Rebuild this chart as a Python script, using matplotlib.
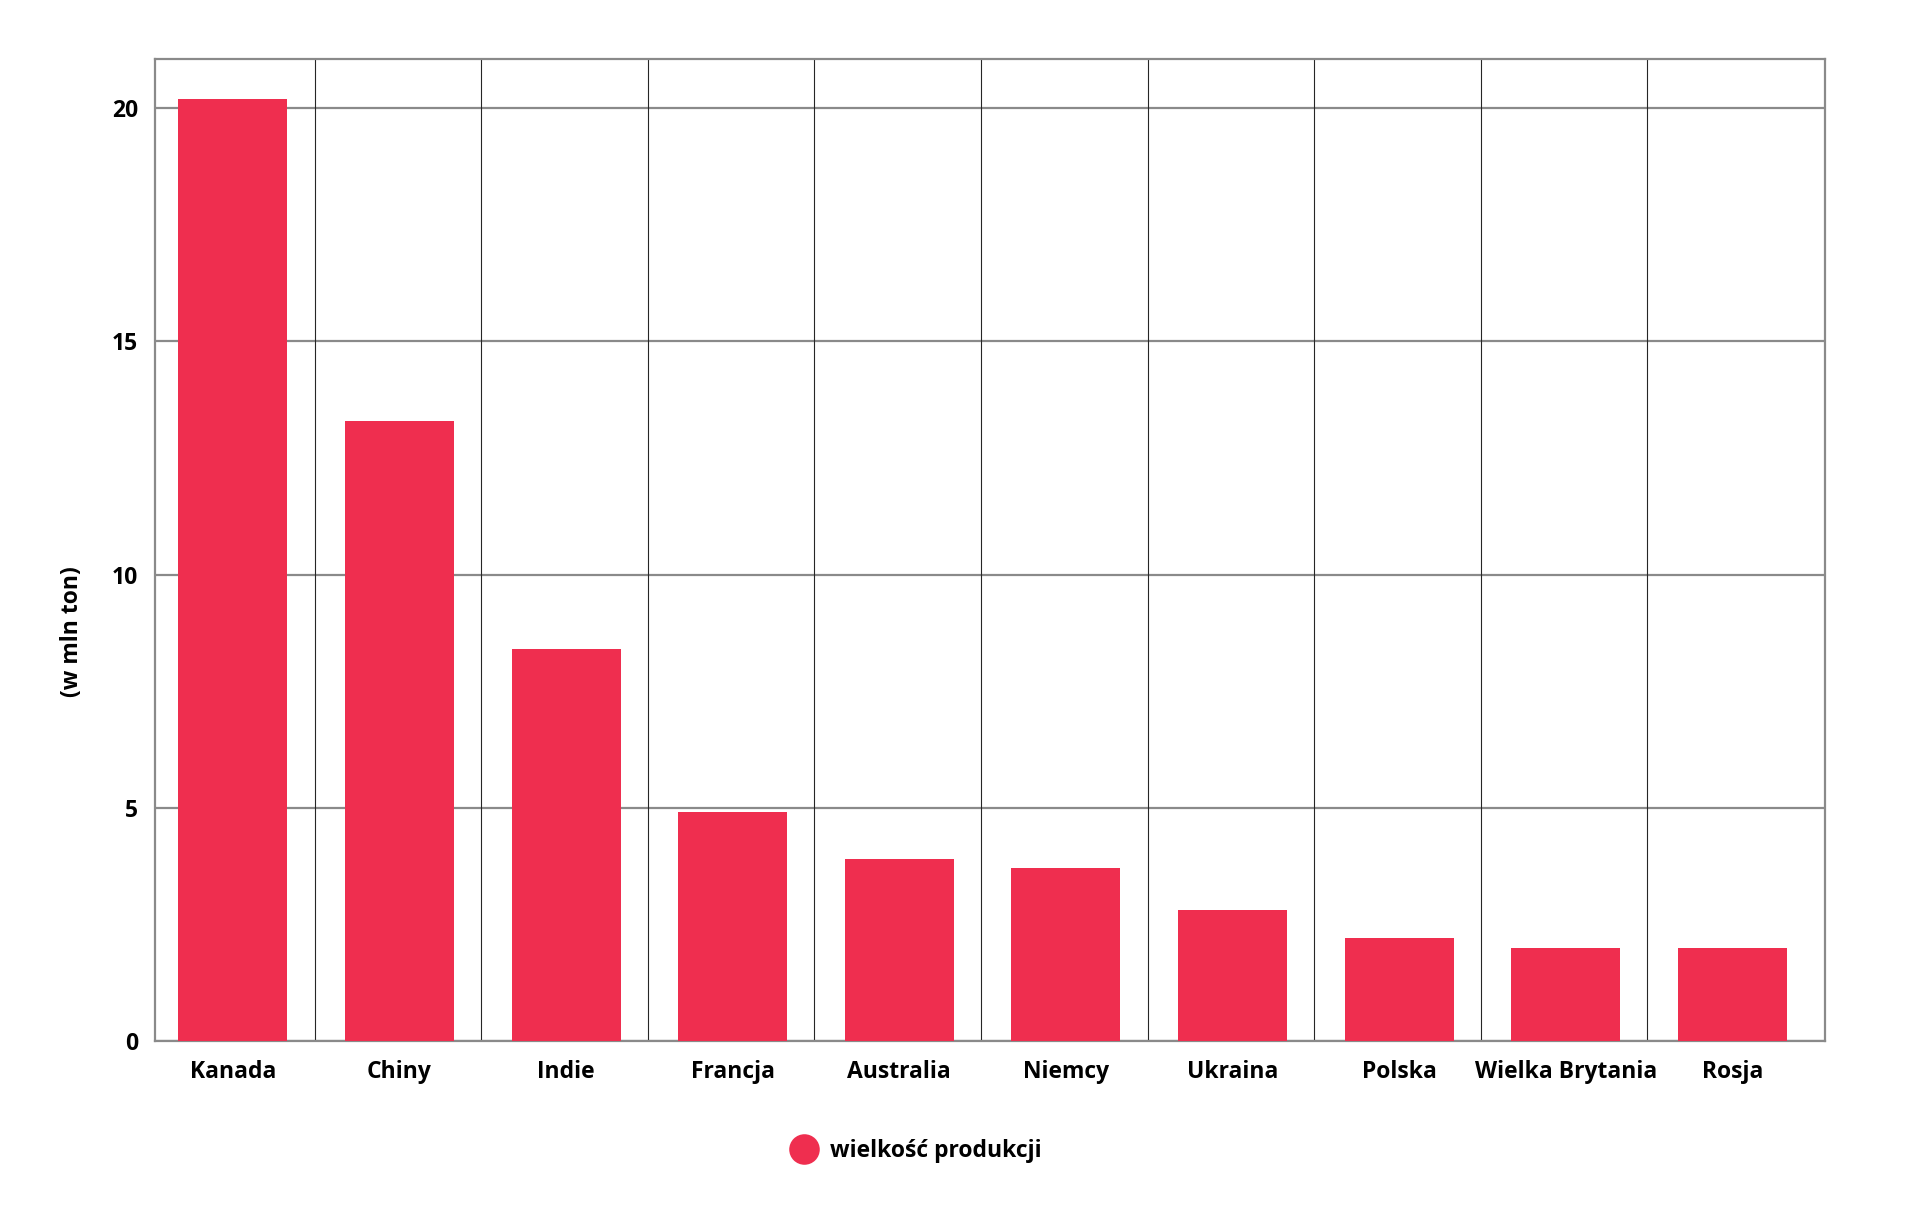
import matplotlib
matplotlib.use('Agg')
import matplotlib.pyplot as plt
from matplotlib.lines import Line2D
import numpy as np

# production volumes (mln t)
countries = ['Kanada', 'Chiny', 'Indie', 'Francja', 'Australia', 'Niemcy',
             'Ukraina', 'Polska', 'Wielka Brytania', 'Rosja']
production = [20.2, 13.3, 8.4, 4.9, 3.9, 3.7, 2.8, 2.2, 2.0, 2.0]
y_ticks = [0, 5, 10, 15, 20]
y_label = '(w mln ton)'
legend_label = 'wielkość produkcji'

BAR_COLOR = '#EF2E4F'
GRID_H = '#8a8a8a'
GRID_V = '#262626'
FS = 16.5

plt.rcParams['font.family'] = ['Open Sans', 'DejaVu Sans']
plt.rcParams['font.weight'] = 'bold'

fig = plt.figure(figsize=(19.2, 12.07), dpi=100)
ax = fig.add_axes([0.0807, 0.1375, 0.8698, 0.8136])

x = np.arange(len(countries))
ax.bar(x, production, width=0.655, color=BAR_COLOR, zorder=3)

ax.set_xlim(-0.468, len(countries) - 1 + 0.556)
ax.set_ylim(0, 21.05)

# horizontal grid
ax.set_yticks(y_ticks)
ax.yaxis.grid(True, color=GRID_H, linewidth=1.6, zorder=1)
ax.xaxis.grid(False)
# vertical separators between categories (thin, dark)
for xi in x[:-1]:
    ax.axvline(xi + 0.49, color=GRID_V, linewidth=0.8, zorder=2)

ax.set_xticks(x)
ax.set_xticklabels(countries, fontsize=FS, fontweight='bold')
ax.set_yticklabels([str(t) for t in y_ticks], fontsize=FS, fontweight='bold')
ax.tick_params(axis='both', length=0)
ax.tick_params(axis='x', pad=14)
ax.tick_params(axis='y', pad=12)

for s in ax.spines.values():
    s.set_color(GRID_H)
    s.set_linewidth(1.6)

fig.text(72 / 1920, 1 - 632 / 1207, y_label, rotation=90, fontsize=FS,
         fontweight='bold', ha='center', va='center')

handle = Line2D([], [], marker='o', linestyle='', color=BAR_COLOR,
                markersize=22, markeredgewidth=0)
fig.legend([handle], [legend_label], loc='center',
           bbox_to_anchor=(916 / 1920, 1 - 1151 / 1207), frameon=False,
           prop={'size': FS, 'weight': 'bold'}, handletextpad=0.5,
           handlelength=1.2)

fig.savefig('out.png', dpi=100, facecolor='white')
